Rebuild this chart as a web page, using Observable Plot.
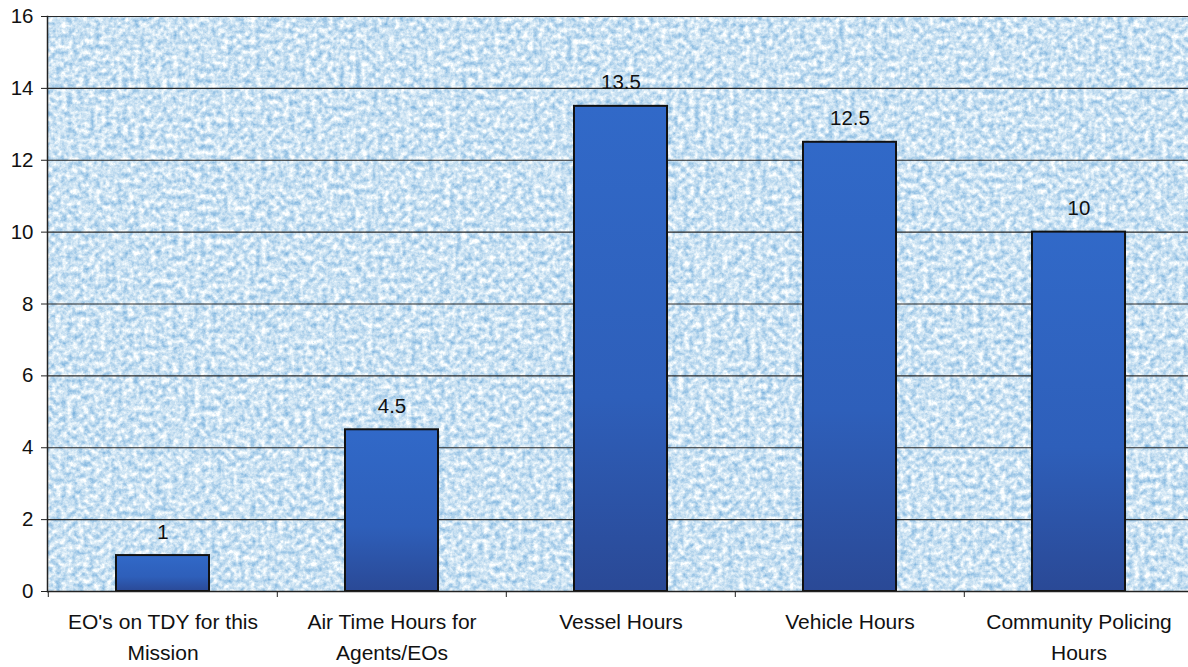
<!DOCTYPE html>
<html>
<head>
<meta charset="utf-8">
<script src="https://cdn.jsdelivr.net/npm/d3@7"></script>
<script src="https://cdn.jsdelivr.net/npm/@observablehq/plot@0.6"></script>
<style>
  html, body { margin: 0; padding: 0; background: #ffffff; }
  #chart svg { display: block; }
</style>
</head>
<body>
<div id="chart"></div>
<script>
const categories = [
  "EO's on TDY for this Mission",
  "Air Time Hours for Agents/EOs",
  "Vessel Hours",
  "Vehicle Hours",
  "Community Policing Hours"
];
const tickLabels = [
  "EO's on TDY for this\nMission",
  "Air Time Hours for\nAgents/EOs",
  "Vessel Hours",
  "Vehicle Hours",
  "Community Policing\nHours"
];
const values = [1, 4.5, 13.5, 12.5, 10];
const yTicks = [0, 2, 4, 6, 8, 10, 12, 14, 16];

const data = categories.map((c, i) => ({category: c, value: values[i], label: String(values[i])}));
const labelOf = new Map(categories.map((c, i) => [c, tickLabels[i]]));

const W = 1188, H = 667;
const left = 47, bandRight = 1194;
const halfBand = (bandRight - left) / categories.length / 2;

const chart = Plot.plot({
  width: W,
  height: H,
  marginLeft: left,
  marginRight: 0,
  marginTop: 16,
  marginBottom: 76,
  style: {fontFamily: "'Liberation Sans', Arial, sans-serif", fontSize: "20px", color: "#111", background: "#ffffff", overflow: "visible"},
  x: {domain: categories, range: [left, bandRight], paddingInner: 0.595, paddingOuter: 0.2975, align: 0.5},
  y: {domain: [0, 16], ticks: yTicks},
  marks: [
    Plot.frame({fill: "#c6e4f4", stroke: null}),
    Plot.gridY(yTicks, {stroke: "#2a2a2a", strokeOpacity: 1, strokeWidth: 1.2}),
    Plot.barY(data, {x: "category", y: "value", fill: "url(#barGrad)", stroke: "#111", strokeWidth: 2}),
    Plot.text(data, {x: "category", y: "value", text: "label", lineAnchor: "bottom", dy: -17, fontSize: 20.5, fill: "#111"}),
    Plot.ruleY([0], {stroke: "#222", strokeWidth: 1.5}),
    Plot.frame({anchor: "left", stroke: "#222", strokeWidth: 1.5}),
    Plot.axisY({ticks: yTicks, tickSize: 6, tickPadding: 8, fontSize: 20.5, label: null, stroke: "#222"}),
    Plot.axisX({tickSize: 6, dx: -halfBand, text: null, label: null, stroke: "#222"}),
    Plot.axisX({tickSize: 0, tickPadding: 16, lineAnchor: "top", lineHeight: 1.45, fontSize: 21, label: null, tickFormat: d => labelOf.get(d)})
  ]
});

const svg = d3.select(chart);
const defs = svg.insert("defs", ":first-child");
const grad = defs.append("linearGradient").attr("id", "barGrad").attr("x1", 0).attr("y1", 0).attr("x2", 0).attr("y2", 1);
grad.append("stop").attr("offset", "0%").attr("stop-color", "#3169c8");
grad.append("stop").attr("offset", "60%").attr("stop-color", "#2e5fba");
grad.append("stop").attr("offset", "100%").attr("stop-color", "#2a4996");

const filt = defs.append("filter").attr("id", "texture").attr("x", 0).attr("y", 0).attr("width", 1).attr("height", 1)
  .attr("color-interpolation-filters", "sRGB");
filt.append("feTurbulence").attr("type", "fractalNoise").attr("baseFrequency", "0.18").attr("numOctaves", 4).attr("seed", 11).attr("result", "n");
filt.append("feColorMatrix").attr("in", "n").attr("type", "matrix")
  .attr("values", "0.75 0 0 0 0.42  0.45 0 0 0 0.66  0.2 0 0 0 0.85  0 0 0 0 1");

svg.selectAll('[aria-label="frame"]').each(function() {
  const r = this.tagName === "rect" ? this : this.querySelector("rect");
  if (r && r.getAttribute("fill") === "#c6e4f4") r.setAttribute("filter", "url(#texture)");
});

document.getElementById("chart").appendChild(chart);
</script>
</body>
</html>
